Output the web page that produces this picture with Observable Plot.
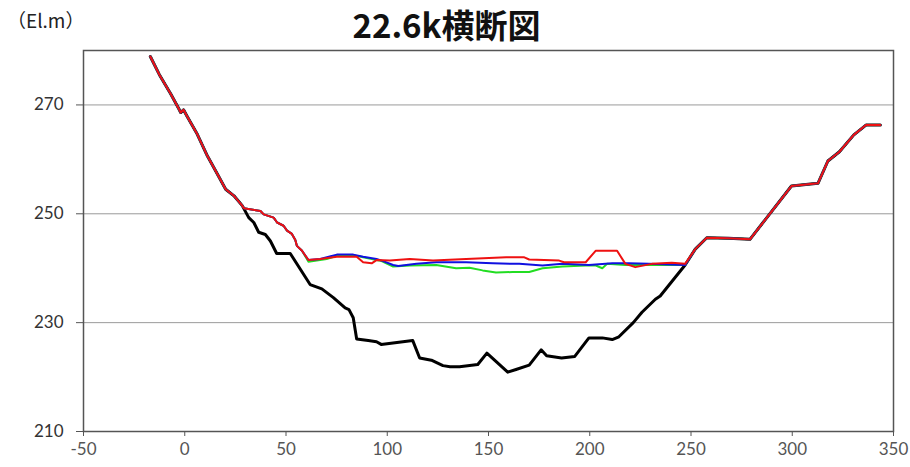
<!DOCTYPE html>
<html>
<head>
<meta charset="utf-8">
<script src="https://cdn.jsdelivr.net/npm/d3@7"></script>
<script src="https://cdn.jsdelivr.net/npm/@observablehq/plot@0.6"></script>
<style>
  html, body { margin: 0; padding: 0; background: #fff; }
  #wrap { position: relative; width: 910px; height: 467px; }
  #title { position: absolute; left: 0; top: 0px; width: 893px; text-align: center;
           font-family: "Noto Sans CJK JP", sans-serif; font-weight: 700; font-size: 33px; line-height: normal; color: #111; }
  #unit { position: absolute; left: 7px; top: 9px; font-family: "Noto Sans CJK JP", sans-serif;
          font-size: 19px; line-height: 1.2; color: #222; }
  #chart { position: absolute; left: 0; top: 0; }
</style>
</head>
<body>
<div id="wrap">
  <div id="chart"></div>
  <div id="title">22.6k横断図</div>
  <div id="unit">（El.m）</div>
</div>
<script>
// ---- tick labels ----
const xTicks = [-50, 0, 50, 100, 150, 200, 250, 300, 350];
const yTicks = [210, 230, 250, 270];
const yGrid = [230, 250, 270];

// ---- shared bank profiles (all series coincide here) ----
const leftBankX = [-17.0, -12.6, -6.9, -2.8, -2.0, -0.6, 1.0, 6.2, 11.2, 16.1, 20.2, 24.3, 28.4];
const leftBankY = [278.9, 275.6, 272.0, 269.2, 268.6, 269.1, 268.0, 264.6, 260.6, 257.3, 254.5, 253.3, 251.5];
const rightBankX = [252.1, 257.8, 268.4, 279.1, 299.6, 312.7, 317.6, 323.3, 330.4, 336.4, 343.5];
const rightBankY = [243.5, 245.6, 245.5, 245.3, 255.1, 255.6, 259.7, 261.4, 264.5, 266.3, 266.3];

// ---- ground (black) channel section ----
const groundX = [31.6, 34.1, 36.5, 39.8, 42.3, 45.4, 52.1, 61.9, 67.7, 73.4, 79.2, 81.1, 83.2, 84.9, 90.6, 94.7, 97.0,
  112.6, 116.0, 121.8, 127.5, 131.0, 135.7, 144.7, 149.2, 159.5, 163.6, 170.1, 176.0, 178.7, 186.1, 192.6, 199.6,
  206.2, 211.1, 214.4, 221.5, 225.8, 232.4, 234.8, 247.1];
const groundY = [249.3, 248.4, 246.6, 246.2, 245.0, 242.7, 242.7, 237.0, 236.2, 234.6, 232.7, 232.4, 230.9, 227.0, 226.7, 226.5, 226.0,
  226.7, 223.5, 223.1, 222.1, 221.9, 221.9, 222.3, 224.4, 220.9, 221.4, 222.2, 225.0, 223.9, 223.5, 223.8, 227.2,
  227.2, 226.9, 227.4, 230.0, 231.9, 234.3, 234.9, 240.6];

// ---- water surface: left bank step shared by the three water lines ----
const stepX = [29.2, 37.4, 39.0, 43.9, 45.6, 48.8, 50.5, 52.9, 54.6, 55.4, 57.9];
const stepY = [251.0, 250.5, 249.9, 249.3, 248.4, 247.8, 246.9, 246.3, 245.2, 244.1, 243.2];

// ---- red water line ----
const redX = [61.1, 66.9, 75.1, 84.9, 88.1, 92.3, 94.7, 101.3, 111.1, 122.6, 139.0, 158.7, 167.7, 170.1, 184.9, 187.3,
  198.0, 202.9, 213.5, 217.6, 222.5, 230.7, 240.5, 247.1];
const redY = [241.5, 241.7, 242.1, 242.1, 241.1, 240.9, 241.5, 241.4, 241.7, 241.4, 241.7, 242.0, 242.0, 241.6, 241.4, 241.1,
  241.1, 243.2, 243.2, 240.8, 240.2, 240.8, 241.0, 240.8];

// ---- blue water line ----
const blueX = [61.1, 66.9, 75.1, 83.2, 88.1, 94.7, 98.0, 102.9, 105.4, 114.4, 124.2, 139.0, 152.1, 165.2, 176.7, 186.5,
  199.6, 211.1, 219.3, 229.2, 247.1];
const blueY = [241.5, 241.7, 242.5, 242.5, 242.1, 241.7, 241.3, 240.6, 240.4, 240.8, 241.1, 241.1, 240.9, 240.8, 240.5, 240.8,
  240.6, 240.9, 240.9, 240.8, 240.6];

// ---- green water line ----
const greenX = [61.1, 70.1, 75.1, 83.2, 88.1, 97.2, 102.9, 111.1, 124.2, 134.0, 140.6, 147.1, 153.7, 161.9, 170.1, 176.7,
  186.5, 198.0, 203.0, 206.2, 208.6, 217.6, 230.7, 247.1];
const greenY = [241.2, 241.7, 242.3, 242.4, 242.0, 241.3, 240.3, 240.5, 240.6, 240.0, 240.1, 239.6, 239.2, 239.3, 239.3, 240.0,
  240.3, 240.5, 240.5, 240.0, 240.8, 240.6, 240.6, 240.6];

function rows(name, xs, ys) { return xs.map((x, i) => ({series: name, x, y: ys[i]})); }
const groundRows = [
  ...rows("ground", leftBankX, leftBankY), ...rows("ground", groundX, groundY), ...rows("ground", rightBankX, rightBankY)
];
function waterRows(name, xs, ys) {
  return [...rows(name, leftBankX, leftBankY), ...rows(name, stepX, stepY), ...rows(name, xs, ys), ...rows(name, rightBankX, rightBankY)];
}
const greenRows = waterRows("green", greenX, greenY);
const blueRows = waterRows("blue", blueX, blueY);
const redRows = waterRows("red", redX, redY);

const chart = Plot.plot({
  width: 910,
  height: 467,
  marginLeft: 83,
  marginRight: 17,
  marginTop: 50,
  marginBottom: 36,
  style: {fontFamily: "Lato, 'Noto Sans', sans-serif", fontSize: "17px", color: "#444", background: "transparent"},
  x: {domain: [-50, 350], label: null},
  y: {domain: [210, 280], label: null},
  marks: [
    Plot.gridY(yGrid, {stroke: "#9a9a9a", strokeOpacity: 1, strokeWidth: 1}),
    Plot.axisY({ticks: yTicks, tickSize: 7, tickPadding: 13, stroke: "#555", fill: "#333", label: null, tickFormat: d => `${d}`}),
    Plot.axisX({ticks: xTicks, tickSize: 5, tickPadding: 6, stroke: "#555", fill: "#555", label: null, tickFormat: d => `${d}`}),
    Plot.line(groundRows, {x: "x", y: "y", stroke: "#000", strokeWidth: 3, strokeLinejoin: "round"}),
    Plot.line(greenRows, {x: "x", y: "y", stroke: "#22dd22", strokeWidth: 2, strokeLinejoin: "round"}),
    Plot.line(blueRows, {x: "x", y: "y", stroke: "#1010e0", strokeWidth: 2, strokeLinejoin: "round"}),
    Plot.line(redRows, {x: "x", y: "y", stroke: "#ee1111", strokeWidth: 2, strokeLinejoin: "round"}),
    Plot.frame({stroke: "#555", strokeWidth: 1.5})
  ]
});
document.getElementById("chart").appendChild(chart);
</script>
</body>
</html>
